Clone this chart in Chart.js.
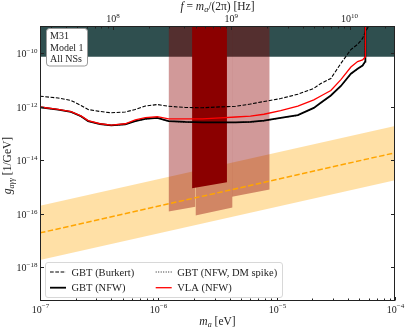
<!DOCTYPE html>
<html>
<head>
  <title>M31 axion limits</title>
  <script src="https://cdn.jsdelivr.net/npm/chart.js"></script>
  <style>
    body { margin: 0; background: #fff; }
    #wrap { width: 407px; height: 331px; }
  </style>
</head>
<body>
  <div id="wrap"><canvas id="chart" width="407" height="331"></canvas></div>
  <script>
    // axion mass grid (eV) shared by the limit curves
    const curveMass = [1.0e-7, 1.42e-7, 1.83e-7, 2.22e-7, 2.55e-7, 3.22e-7, 4.0e-7, 5.25e-7, 6.38e-7, 7.76e-7,
      9.8e-7, 1.22e-6, 1.69e-6, 2.36e-6, 3.35e-6, 4.5e-6, 6.0e-6, 7.8e-6, 1.08e-5, 1.51e-5,
      2.06e-5, 2.36e-5, 2.87e-5, 3.49e-5, 4.24e-5, 4.83e-5, 5.32e-5, 5.6e-5];

    // g_agg limits (1/GeV)
    const gbtBurkert = [2.45e-12, 2.1e-12, 1.7e-12, 1.1e-12, 7.8e-13, 6.6e-13, 5.9e-13, 6.3e-13, 7.8e-13, 1.05e-12,
      1.2e-12, 1.03e-12, 9.3e-13, 9.1e-13, 9.8e-13, 1.03e-12, 1.25e-12, 1.55e-12, 2.0e-12, 2.9e-12,
      4.8e-12, 7.3e-12, 1.12e-11, 4.1e-11, 1.35e-10, 2.1e-10, 3.5e-10, 6.0e-10];
    const gbtNfw = [9.5e-13, 7.8e-13, 6.4e-13, 4.4e-13, 2.9e-13, 2.25e-13, 2.0e-13, 2.2e-13, 2.9e-13, 3.5e-13,
      3.8e-13, 2.9e-13, 2.7e-13, 2.6e-13, 2.6e-13, 2.6e-13, 2.7e-13, 3.0e-13, 3.8e-13, 4.8e-13,
      9.0e-13, 1.4e-12, 2.6e-12, 5.9e-12, 1.7e-11, 2.6e-11, 3.4e-11, 4.8e-11];
    const gbtSpike = [9.4e-13, 7.7e-13, 6.3e-13, 4.3e-13, 2.85e-13, 2.2e-13, 1.97e-13, 2.17e-13, 2.85e-13, 3.45e-13,
      3.75e-13, 2.85e-13, 2.65e-13, 2.55e-13, 2.55e-13, 2.55e-13, 2.65e-13, 2.95e-13, 3.75e-13, 4.7e-13,
      8.8e-13, 1.35e-12, 2.5e-12, 5.7e-12, 1.65e-11, 2.5e-11, 3.3e-11, 4.6e-11];
    const vlaNfw = [9.7e-13, 7.9e-13, 6.5e-13, 4.5e-13, 3.0e-13, 2.3e-13, 2.05e-13, 2.3e-13, 3.2e-13, 3.9e-13,
      4.2e-13, 3.5e-13, 3.5e-13, 3.5e-13, 3.8e-13, 4.1e-13, 4.4e-13, 5.2e-13, 7.1e-13, 1.05e-12,
      1.8e-12, 2.5e-12, 4.0e-12, 1.02e-11, 3.0e-11, 4.8e-11, 5.5e-11, 7.1e-11];

    // curves shoot off the top of the plot near the upper mass end
    const burkertTailMass = [6.05e-5, 6.6e-5];
    const burkertTailG = [1.1e-9, 3e-9];
    const nfwTailMass = [5.62e-5];
    const nfwTailG = [1e-8];

    // CAST bound
    const castLimit = 7.2e-11;

    // QCD axion band
    const qcdMass = [1e-7, 1e-4];
    const qcdCenter = [1.95e-17, 1.9e-14];
    const qcdUpper = [2.0e-16, 1.9e-13];
    const qcdLower = [1.9e-18, 1.8e-15];

    // radio-band search windows (light) and the deep window (dark)
    const windowLo = [1.22e-6, 2.06e-6, 4.2e-6];
    const windowHi = [2.06e-6, 4.24e-6, 8.73e-6];
    const windowFloorLo = [1.22e-16, 8.7e-17, 4.3e-16];
    const windowFloorHi = [1.85e-16, 1.72e-16, 8.1e-16];
    const deepLo = 1.93e-6, deepHi = 3.8e-6;
    const deepFloor = [9.0e-16, 1.51e-15];

    // ticks
    const xTickExp = [-7, -6, -5, -4];
    const yTickExp = [-18, -16, -14, -12, -10];
    const fTickExp = [8, 9, 10];
    const HZ_PER_EV = 2.418e14; // f = m/(2 pi hbar)

    const infoLines = ['M31', 'Model 1', 'All NSs'];

    const FONT = '"Liberation Serif", "Times New Roman", serif';
    const pts = (xs, ys) => xs.map((x, i) => ({ x: x, y: ys[i] }));

    function font(size, italic) {
      return (italic ? 'italic ' : '') + size + 'px ' + FONT;
    }
    function runsWidth(ctx, runs, size) {
      let w = 0;
      runs.forEach(r => {
        ctx.font = font(r.sub || r.sup ? size * 0.7 : size, r.it);
        w += ctx.measureText(r.t).width;
      });
      return w;
    }
    function drawRuns(ctx, runs, x, y, size, align) {
      const w = runsWidth(ctx, runs, size);
      let cx = align === 'center' ? x - w / 2 : align === 'right' ? x - w : x;
      ctx.textAlign = 'left';
      ctx.textBaseline = 'alphabetic';
      runs.forEach(r => {
        const s = r.sub || r.sup ? size * 0.7 : size;
        ctx.font = font(s, r.it);
        const dy = r.sub ? size * 0.22 : r.sup ? -size * 0.42 : 0;
        ctx.fillText(r.t, cx, y + dy);
        cx += ctx.measureText(r.t).width;
      });
    }
    const pow10 = e => [{ t: '10' }, { t: (e < 0 ? '\u2212' : '') + Math.abs(e), sup: true }];

    const datasets = [];
    // CAST band
    datasets.push({ data: pts([1e-7, 1e-4], [castLimit, castLimit]), fill: 'end',
      backgroundColor: '#2f4f4f', borderWidth: 0, order: 20 });
    // QCD band
    datasets.push({ data: pts(qcdMass, qcdUpper), fill: '+1',
      backgroundColor: 'rgba(255,165,0,0.35)', borderWidth: 0, order: 19 });
    datasets.push({ data: pts(qcdMass, qcdLower), fill: false, borderWidth: 0, order: 19 });
    // light windows
    windowLo.forEach((lo, i) => {
      datasets.push({ data: pts([lo, windowHi[i]], [windowFloorLo[i], windowFloorHi[i]]), fill: 'end',
        backgroundColor: 'rgba(139,0,0,0.4)', borderWidth: 0, order: 18 });
    });
    // deep window
    datasets.push({ data: pts([deepLo, deepHi], deepFloor), fill: 'end',
      backgroundColor: '#8b0000', borderWidth: 0, order: 17 });
    // QCD line
    datasets.push({ data: pts(qcdMass, qcdCenter), borderColor: '#ffa500', borderWidth: 1.5,
      borderDash: [5.5, 2.4], fill: false, order: 16 });
    // limit curves
    datasets.push({ label: 'GBT (Burkert)', data: pts(curveMass.concat(burkertTailMass), gbtBurkert.concat(burkertTailG)),
      borderColor: '#000', borderWidth: 1.1, borderDash: [3.7, 1.6], fill: false, order: 5 });
    datasets.push({ label: 'GBT (NFW)', data: pts(curveMass.concat(nfwTailMass), gbtNfw.concat(nfwTailG)),
      borderColor: '#000', borderWidth: 1.8, fill: false, order: 4 });
    datasets.push({ label: 'GBT (NFW, DM spike)', data: pts(curveMass.concat(nfwTailMass), gbtSpike.concat(nfwTailG)),
      borderColor: '#000', borderWidth: 0.9, borderDash: [1, 1.5], fill: false, order: 3 });
    datasets.push({ label: 'VLA (NFW)', data: pts(curveMass.concat(nfwTailMass), vlaNfw.concat(nfwTailG)),
      borderColor: '#ff0000', borderWidth: 1.3, fill: false, order: 2 });

    datasets.forEach(d => { d.pointRadius = 0; d.tension = 0; d.clip = 0; });

    const decor = {
      id: 'decor',
      afterDraw(chart) {
        const ctx = chart.ctx;
        const a = chart.chartArea;
        const xs = chart.scales.x, ys = chart.scales.y;
        ctx.save();
        ctx.fillStyle = '#222';
        ctx.strokeStyle = '#222';
        ctx.lineWidth = 1;

        // frame
        const L = Math.round(a.left) + 0.5, R = Math.round(a.right) - 0.5;
        const T = Math.round(a.top) + 0.5, B = Math.round(a.bottom) - 0.5;
        ctx.strokeRect(L, T, R - L, B - T);

        function tick(x1, y1, x2, y2) {
          ctx.beginPath(); ctx.moveTo(x1, y1); ctx.lineTo(x2, y2); ctx.stroke();
        }
        // bottom axis
        xTickExp.forEach((e, i) => {
          const px = Math.round(xs.getPixelForValue(Math.pow(10, e))) + 0.5;
          tick(px, B, px, B - 3.5);
          drawRuns(ctx, pow10(e), px, 312.5, 10, 'center');
          if (i < xTickExp.length - 1) {
            for (let k = 2; k <= 9; k++) {
              const mx = Math.round(xs.getPixelForValue(k * Math.pow(10, e))) + 0.5;
              tick(mx, B, mx, B - 2);
            }
          }
        });
        // top axis (frequency)
        const fMin = xs.min * HZ_PER_EV, fMax = xs.max * HZ_PER_EV;
        for (let e = 7; e <= 10; e++) {
          for (let k = 1; k <= 9; k++) {
            const f = k * Math.pow(10, e);
            if (f < fMin || f > fMax) continue;
            const px = Math.round(xs.getPixelForValue(f / HZ_PER_EV)) + 0.5;
            tick(px, T, px, T + (k === 1 ? 3.5 : 2));
          }
        }
        fTickExp.forEach(e => {
          const px = xs.getPixelForValue(Math.pow(10, e) / HZ_PER_EV);
          drawRuns(ctx, pow10(e), px, 21.7, 10, 'center');
        });
        // y axis
        yTickExp.forEach(e => {
          const py = Math.round(ys.getPixelForValue(Math.pow(10, e))) + 0.5;
          tick(L, py, L + 3.5, py);
          tick(R, py, R - 3.5, py);
          drawRuns(ctx, pow10(e), 37.5, py + 3.8, 10, 'right');
        });

        // axis titles
        drawRuns(ctx, [{ t: 'm', it: true }, { t: 'a', it: true, sub: true }, { t: ' [eV]' }],
          (a.left + a.right) / 2, 324.5, 11.5, 'center');
        drawRuns(ctx, [{ t: 'f', it: true }, { t: ' = ' }, { t: 'm', it: true }, { t: 'a', it: true, sub: true },
          { t: '/(2\u03c0) [Hz]' }], (a.left + a.right) / 2, 9.5, 11.5, 'center');
        ctx.save();
        ctx.translate(11, (a.top + a.bottom) / 2 + 2);
        ctx.rotate(-Math.PI / 2);
        drawRuns(ctx, [{ t: 'g', it: true }, { t: 'a\u03b3\u03b3', it: true, sub: true }, { t: ' [1/GeV]' }],
          0, 0, 11.5, 'center');
        ctx.restore();

        // info box
        ctx.beginPath();
        ctx.roundRect(46.5, 28.5, 41, 37.5, 3);
        ctx.fillStyle = '#fff';
        ctx.fill();
        ctx.strokeStyle = '#999';
        ctx.stroke();
        ctx.fillStyle = '#222';
        infoLines.forEach((s, i) => drawRuns(ctx, [{ t: s }], 50, 39.2 + i * 11.3, 10, 'left'));

        // legend
        ctx.beginPath();
        ctx.roundRect(45.5, 262.5, 237, 35, 2.5);
        ctx.fillStyle = 'rgba(255,255,255,0.85)';
        ctx.fill();
        ctx.strokeStyle = '#d8d8d8';
        ctx.stroke();
        const legendOrder = ['GBT (Burkert)', 'GBT (NFW, DM spike)', 'GBT (NFW)', 'VLA (NFW)'];
        const colX = [50, 155.7], rowY = [272, 287.7];
        legendOrder.forEach((lab, i) => {
          const d = datasets.find(ds => ds.label === lab);
          const cx = colX[i % 2], cy = rowY[Math.floor(i / 2)];
          ctx.save();
          ctx.strokeStyle = d.borderColor;
          ctx.lineWidth = d.borderWidth;
          ctx.setLineDash(d.borderDash || []);
          ctx.beginPath(); ctx.moveTo(cx, cy); ctx.lineTo(cx + 16, cy); ctx.stroke();
          ctx.restore();
          ctx.fillStyle = '#222';
          drawRuns(ctx, [{ t: lab }], cx + 21.5, cy + 3.5, 10.5, 'left');
        });
        ctx.restore();
      }
    };

    new Chart(document.getElementById('chart'), {
      type: 'line',
      data: { datasets: datasets },
      options: {
        responsive: false,
        animation: false,
        devicePixelRatio: 1,
        layout: { padding: { top: 26, right: 12, left: 0, bottom: 0 } },
        plugins: { legend: { display: false }, tooltip: { enabled: false } },
        scales: {
          x: {
            type: 'logarithmic', min: 1e-7, max: 1e-4,
            grid: { display: false }, border: { display: false }, ticks: { display: false },
            afterFit(s) { s.height = 30; }
          },
          y: {
            type: 'logarithmic', min: 5.6e-20, max: 1.02e-9,
            grid: { display: false }, border: { display: false }, ticks: { display: false },
            afterFit(s) { s.width = 40; }
          }
        }
      },
      plugins: [decor]
    });
  </script>
</body>
</html>
